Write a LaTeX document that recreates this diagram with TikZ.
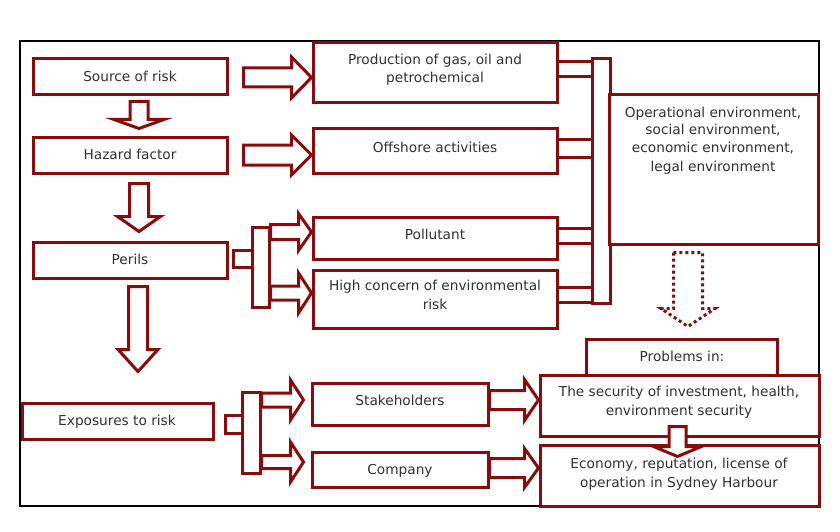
\documentclass[tikz,border=0pt]{standalone}
\usepackage{fontspec}
\setmainfont{DejaVu Sans}
\usetikzlibrary{calc}
\definecolor{dred}{RGB}{135,12,12}
\definecolor{txtc}{RGB}{50,50,50}
\tikzset{
  box/.style={draw=dred, line width=3pt, fill=white, inner sep=0pt, rectangle},
  barrow/.style={draw=dred, line width=3pt, fill=white, line join=miter},
  dotarrow/.style={fill=none, dash pattern=on 3pt off 3pt},
  txt/.style={font=\fontsize{13.7}{18.5}\selectfont, text=txtc, align=center, inner sep=0pt, anchor=base},
}
% right-pointing block arrow: [style]{tail}{tip}{half shaft}{half head}{head length}
\newcommand\rarrow[6][]{%
  \draw[barrow,#1] let \p1=#2, \p2=#3 in
   (\x1,{\y2+#4pt}) -- ({\x2-#6pt},{\y2+#4pt}) -- ({\x2-#6pt},{\y2+#5pt}) -- (\x2,\y2)
   -- ({\x2-#6pt},{\y2-#5pt}) -- ({\x2-#6pt},{\y2-#4pt}) -- (\x1,{\y2-#4pt}) -- cycle;}
% down-pointing block arrow
\newcommand\darrow[6][]{%
  \draw[barrow,#1] let \p1=#2, \p2=#3 in
   ({\x2-#4pt},\y1) -- ({\x2-#4pt},{\y2+#6pt}) -- ({\x2-#5pt},{\y2+#6pt}) -- (\x2,\y2)
   -- ({\x2+#5pt},{\y2+#6pt}) -- ({\x2+#4pt},{\y2+#6pt}) -- ({\x2+#4pt},\y1) -- cycle;}
\begin{document}
\begin{tikzpicture}[x=1pt,y=-1pt]
\useasboundingbox (0,0) rectangle (840,532);
\fill[white] (0,0) rectangle (840,532);
\draw[black, line width=1.3pt] (20,41) rectangle (819,506);

% connector strips and bar on the right
\node[box, minimum width=35pt, minimum height=15pt] (s1) at (574.5,69.5) {};
\node[box, minimum width=35pt, minimum height=18pt] (s2) at (574.5,148) {};
\node[box, minimum width=35pt, minimum height=15pt] (s3) at (574.5,235.5) {};
\node[box, minimum width=35pt, minimum height=15pt] (s4) at (574.5,294.5) {};
\node[box, minimum width=18pt, minimum height=244pt] (bar) at (601,181) {};

% brackets
\node[box, minimum width=19pt, minimum height=17pt] (pbs) at (242.5,258.5) {};
\node[box, minimum width=17pt, minimum height=80pt] (pbt) at (260.5,267) {};
\node[box, minimum width=18pt, minimum height=18pt] (ebs) at (234,424) {};
\node[box, minimum width=18pt, minimum height=81pt] (ebt) at (251,432.5) {};

% boxes
\node[box, minimum width=194pt, minimum height=36pt] (src) at (130,77) {};
\node[box, minimum width=194pt, minimum height=36pt] (haz) at (130,155) {};
\node[box, minimum width=194pt, minimum height=36pt] (per) at (130,260) {};
\node[box, minimum width=191pt, minimum height=36pt] (exp) at (117.5,421) {};
\node[box, minimum width=244pt, minimum height=60pt] (prod) at (435,73) {};
\node[box, minimum width=244pt, minimum height=44pt] (off) at (435,151) {};
\node[box, minimum width=244pt, minimum height=42pt] (pol) at (435,238) {};
\node[box, minimum width=244pt, minimum height=58pt] (high) at (435,299) {};
\node[box, minimum width=209pt, minimum height=149pt] (ops) at (713.5,169.5) {};
\node[box, minimum width=191pt, minimum height=36pt] (prob) at (681.5,357) {};
\node[box, minimum width=279pt, minimum height=61pt] (sec) at (679.5,405.5) {};
\node[box, minimum width=279pt, minimum height=61pt] (eco) at (679.5,475.5) {};
\node[box, minimum width=176pt, minimum height=42pt] (stk) at (400,404) {};
\node[box, minimum width=176pt, minimum height=35pt] (com) at (400,469.5) {};

% block arrows
\rarrow{($(src.east)+(15,0)$)}{($(prod.west)+(0,4.5)$)}{9.5}{20.5}{20}
\rarrow{($(haz.east)+(15,0)$)}{($(off.west)+(0,4)$)}{10}{20}{20}
\rarrow{(pbt.east)}{($(pol.west)+(0,-6)$)}{7.5}{18.5}{13}
\rarrow{(pbt.east)}{($(high.west)+(0,-6)$)}{7}{20}{13}
\rarrow{(ebt.east)}{($(stk.west)+(-7,-4)$)}{7}{20}{13}
\rarrow{(ebt.east)}{($(com.west)+(-7,-7.5)$)}{6.5}{20}{13}
\rarrow{(stk.east)}{($(sec.west)+(0,-5.5)$)}{9.5}{20.5}{14}
\rarrow{(com.east)}{($(eco.west)+(0,-7.5)$)}{9.5}{19.5}{14}

\darrow{($(src.south)+(9,5)$)}{($(haz.north)+(9,-7)$)}{9}{25}{9}
\darrow{($(haz.south)+(9,9)$)}{($(per.north)+(9,-9)$)}{9.5}{21.5}{15}
\darrow{($(per.south)+(8,7)$)}{($(exp.north)+(20.5,-30)$)}{9.5}{20}{22}
\darrow[dotarrow]{($(ops.south)+(-25.5,7)$)}{($(prob.north)+(6.5,-11)$)}{14.5}{27}{18}
\darrow{($(sec.south)+(-2,-11)$)}{($(eco.north)+(-2,13)$)}{8.5}{24}{10}

% texts (anchor base = baseline of the last line)
\node[txt] (srct) at (130,82) {Source of risk};
\node[txt] (hazt) at (130,159) {Hazard factor};
\node[txt] (pert) at (130,264) {Perils};
\node[txt] (expt) at (117,425) {Exposures to risk};
\node[txt] (prodt) at (435,83) {Production of gas, oil and\\petrochemical};
\node[txt] (offt) at (435,153) {Offshore activities};
\node[txt] (polt) at (435,239) {Pollutant};
\node[txt] (hight) at (435,309) {High concern of environmental\\risk};
\node[txt, font=\fontsize{13.7}{18}\selectfont] (opst) at (713,171) {Operational environment,\\social environment,\\economic environment,\\legal environment};
\node[txt] (probt) at (682,361) {Problems in:};
\node[txt] (sect) at (679,415) {The security of investment, health,\\environment security};
\node[txt] (ecot) at (679,487) {Economy, reputation, license of\\operation in Sydney Harbour};
\node[txt] (stkt) at (400,405) {Stakeholders};
\node[txt] (comt) at (400,474) {Company};
\end{tikzpicture}
\end{document}
